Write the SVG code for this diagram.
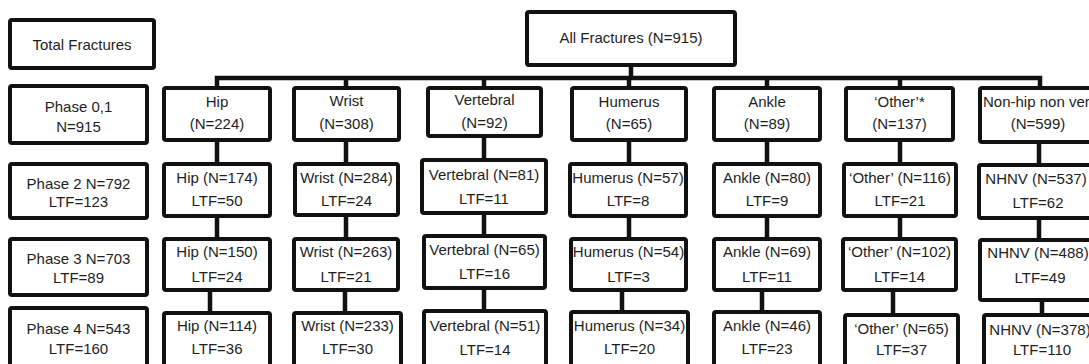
<svg xmlns="http://www.w3.org/2000/svg" width="1089" height="364" viewBox="0 0 1089 364">
<style>
.b{fill:#fff;stroke:#111;stroke-width:4;}
.c{fill:none;stroke:#111;stroke-width:4.5;stroke-linejoin:miter;}
text{font-family:"Liberation Sans",Arial,sans-serif;font-size:15px;fill:#1e1e1e;text-anchor:middle;}
</style>
<rect width="1089" height="364" fill="#fff"/>
<g id="connectors">
<path class="c" d="M631,67 V78 M217,88 V78 H1040 V88 M346,78 V88 M484,78 V88 M629,78 V88 M767,78 V88 M900,78 V88"/>
<path class="c" d="M217,142 V162 M217,218 V237 M210,292 V311"/>
<path class="c" d="M346,142 V162 M346,217 V237 M345,292 V311"/>
<path class="c" d="M484,138 V158 M484,215 V234 M484,290 V309"/>
<path class="c" d="M629,142 V162 M629,218 V237 M622,292 V310"/>
<path class="c" d="M767,142 V162 M767,218 V237 M762,292 V310"/>
<path class="c" d="M900,142 V162 M900,218 V237 M893,292 V313"/>
<path class="c" d="M1039,144 V163 M1039,220 V238 M1042,302 V313"/>
</g>
<g id="total"><rect class="b" x="10" y="20" width="144" height="48" rx="2"/><text x="82" y="50">Total Fractures</text></g>
<g id="phase01"><rect class="b" x="10" y="86" width="137" height="57" rx="2"/><text x="78.5" y="112">Phase 0,1</text><text x="78.5" y="132">N=915</text></g>
<g id="phase2"><rect class="b" x="10" y="164" width="137" height="54" rx="2"/><text x="78.5" y="189">Phase 2 N=792</text><text x="78.5" y="207">LTF=123</text></g>
<g id="phase3"><rect class="b" x="10" y="239" width="137" height="56" rx="2"/><text x="78.5" y="264">Phase 3 N=703</text><text x="78.5" y="283">LTF=89</text></g>
<g id="phase4"><rect class="b" x="10" y="308" width="137" height="62" rx="2"/><text x="78.5" y="334">Phase 4 N=543</text><text x="78.5" y="354">LTF=160</text></g>
<g id="all"><rect class="b" x="527" y="12" width="208" height="53" rx="2"/><text x="631" y="43">All Fractures (N=915)</text></g>

<g id="hip1"><rect class="b" x="164" y="88" width="106" height="52" rx="2"/><text x="217" y="107">Hip</text><text x="217" y="129">(N=224)</text></g>
<g id="hip2"><rect class="b" x="164" y="164" width="106" height="52" rx="2"/><text x="217" y="182.5">Hip (N=174)</text><text x="217" y="206">LTF=50</text></g>
<g id="hip3"><rect class="b" x="164" y="239" width="106" height="51" rx="2"/><text x="217" y="257">Hip (N=150)</text><text x="217" y="282">LTF=24</text></g>
<g id="hip4"><rect class="b" x="164" y="313" width="106" height="57" rx="2"/><text x="217" y="331">Hip (N=114)</text><text x="217" y="354">LTF=36</text></g>

<g id="wrist1"><rect class="b" x="294" y="88" width="105" height="52" rx="2"/><text x="346.5" y="106">Wrist</text><text x="346.5" y="129">(N=308)</text></g>
<g id="wrist2"><rect class="b" x="295" y="164" width="103" height="51" rx="2"/><text x="346.5" y="182.5">Wrist (N=284)</text><text x="346.5" y="206">LTF=24</text></g>
<g id="wrist3"><rect class="b" x="294" y="239" width="104" height="51" rx="2"/><text x="346" y="257">Wrist (N=263)</text><text x="346" y="282">LTF=21</text></g>
<g id="wrist4"><rect class="b" x="294" y="313" width="107" height="57" rx="2"/><text x="347.5" y="331">Wrist (N=233)</text><text x="347.5" y="354">LTF=30</text></g>

<g id="vert1"><rect class="b" x="428" y="88" width="113" height="48" rx="2"/><text x="484.5" y="105">Vertebral</text><text x="484.5" y="128">(N=92)</text></g>
<g id="vert2"><rect class="b" x="422" y="160" width="124" height="53" rx="2"/><text x="484" y="180">Vertebral (N=81)</text><text x="484" y="204">LTF=11</text></g>
<g id="vert3"><rect class="b" x="424" y="236" width="121" height="52" rx="2"/><text x="484.5" y="255">Vertebral (N=65)</text><text x="484.5" y="279">LTF=16</text></g>
<g id="vert4"><rect class="b" x="424" y="311" width="122" height="59" rx="2"/><text x="485" y="331">Vertebral (N=51)</text><text x="485" y="355">LTF=14</text></g>

<g id="hum1"><rect class="b" x="572" y="88" width="114" height="52" rx="2"/><text x="629" y="106.5">Humerus</text><text x="629" y="129">(N=65)</text></g>
<g id="hum2"><rect class="b" x="570" y="164" width="116" height="52" rx="2"/><text x="628" y="182.5">Humerus (N=57)</text><text x="628" y="206">LTF=8</text></g>
<g id="hum3"><rect class="b" x="571" y="239" width="115" height="51" rx="2"/><text x="628.5" y="257">Humerus (N=54)</text><text x="628.5" y="282">LTF=3</text></g>
<g id="hum4"><rect class="b" x="571" y="312" width="117" height="58" rx="2"/><text x="629.5" y="331">Humerus (N=34)</text><text x="629.5" y="354">LTF=20</text></g>

<g id="ank1"><rect class="b" x="714" y="88" width="106" height="52" rx="2"/><text x="767" y="106.5">Ankle</text><text x="767" y="129">(N=89)</text></g>
<g id="ank2"><rect class="b" x="714" y="164" width="106" height="52" rx="2"/><text x="767" y="182.5">Ankle (N=80)</text><text x="767" y="206">LTF=9</text></g>
<g id="ank3"><rect class="b" x="714" y="239" width="106" height="51" rx="2"/><text x="767" y="257">Ankle (N=69)</text><text x="767" y="282">LTF=11</text></g>
<g id="ank4"><rect class="b" x="714" y="312" width="106" height="58" rx="2"/><text x="767" y="331">Ankle (N=46)</text><text x="767" y="354">LTF=23</text></g>

<g id="oth1"><rect class="b" x="846" y="88" width="107" height="52" rx="2"/><text x="899.5" y="106.5">‘Other’*</text><text x="899.5" y="129">(N=137)</text></g>
<g id="oth2"><rect class="b" x="844" y="164" width="112" height="52" rx="2"/><text x="900" y="182.5">‘Other’ (N=116)</text><text x="900" y="206">LTF=21</text></g>
<g id="oth3"><rect class="b" x="843" y="239" width="113" height="51" rx="2"/><text x="899.5" y="256.5">‘Other’ (N=102)</text><text x="899.5" y="281.5">LTF=14</text></g>
<g id="oth4"><rect class="b" x="845" y="315" width="113" height="55" rx="2"/><text x="901.5" y="334">‘Other’ (N=65)</text><text x="901.5" y="355">LTF=37</text></g>

<g id="nhnv1"><rect class="b" x="980" y="88" width="124" height="54" rx="2"/><text x="983" y="106.5" style="text-anchor:start">Non-hip non ver</text><text x="1038" y="129">(N=599)</text></g>
<g id="nhnv2"><rect class="b" x="979" y="165" width="124" height="53" rx="2"/><text x="1036" y="184">NHNV (N=537)</text><text x="1038" y="208">LTF=62</text></g>
<g id="nhnv3"><rect class="b" x="980" y="240" width="124" height="60" rx="2"/><text x="1038" y="258">NHNV (N=488)</text><text x="1040" y="283">LTF=49</text></g>
<g id="nhnv4"><rect class="b" x="984" y="315" width="124" height="55" rx="2"/><text x="1040" y="335">NHNV (N=378)</text><text x="1042" y="355">LTF=110</text></g>
</svg>
